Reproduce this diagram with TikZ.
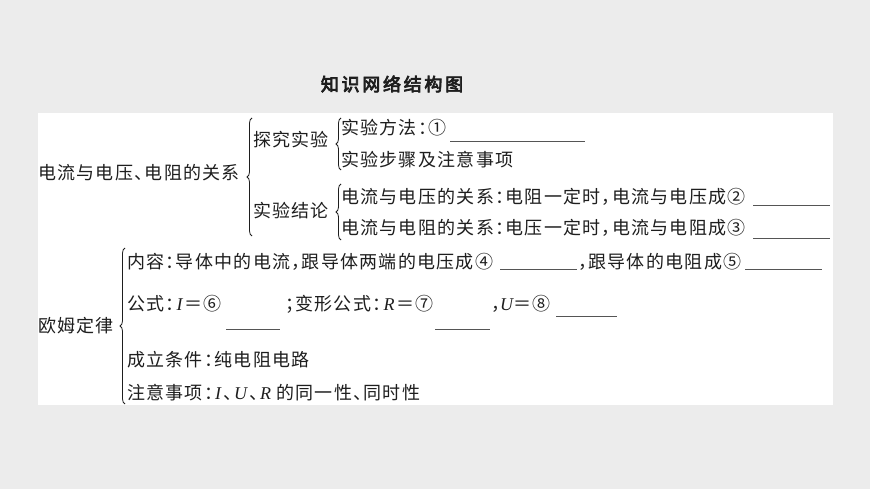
\documentclass[tikz,border=0pt]{standalone}
\usepackage{fontspec}
\usetikzlibrary{decorations.pathreplacing}
\newfontfamily\cjk[RawFeature=+halt,LetterSpace=7]{Noto Sans CJK SC}
\newfontfamily\cjkt[FakeBold=4,LetterSpace=15]{Noto Sans CJK SC}
\newfontfamily\serf{Liberation Serif}
\newcommand{\vi}[1]{\hspace{2pt}{\serf\itshape #1}\hspace{2pt}}
\newcommand{\vj}[1]{{\serf\itshape #1}}
\definecolor{bg}{HTML}{ECECEC}
\definecolor{ink}{HTML}{1E1E1E}
\definecolor{ulc}{HTML}{555555}
\tikzset{
  txt/.style={anchor=west,inner sep=0pt,text=ink,font=\cjk\fontsize{18}{20}\selectfont},
  ttl/.style={inner sep=0pt,text=ink,font=\cjkt\fontsize{18}{20}\selectfont},
  brc/.style={draw=ink,line width=0.8pt,decorate,decoration={brace,amplitude=5pt}},
  blank/.style={draw=ulc,line width=0.9pt}
}
\begin{document}
\begin{tikzpicture}[x=1pt,y=-1pt]
\useasboundingbox (0,0) rectangle (870,489);
\fill[bg] (0,0) rectangle (870,489);
\fill[white] (38,113) rectangle (833,405);
\node[ttl] (title) at (392,84) {知识网络结构图};
% first block
\node[txt] (rel) at (38,173) {电流与电压、电阻的关系};
\coordinate (b1t) at (252,118); \coordinate (b1b) at (252,236);
\draw[brc] (b1b) -- (b1t);
\node[txt] (tj) at (253,140) {探究实验};
\coordinate (b2t) at (341,118); \coordinate (b2b) at (341,170);
\draw[brc] (b2b) -- (b2t);
\node[txt] (r1) at (341,128) {实验方法：①};
\coordinate (u1a) at (450,141); \coordinate (u1b) at (585,141);
\draw[blank] (u1a) -- (u1b);
\node[txt] (r2) at (341,160) {实验步骤及注意事项};
\node[txt] (jl) at (253,211) {实验结论};
\coordinate (b3t) at (341,184); \coordinate (b3b) at (341,240);
\draw[brc] (b3b) -- (b3t);
\node[txt] (r3) at (341,197) {电流与电压的关系：电阻一定时，电流与电压成②};
\coordinate (u2a) at (753,205); \coordinate (u2b) at (830,205);
\draw[blank] (u2a) -- (u2b);
\node[txt] (r4) at (341,228) {电流与电阻的关系：电压一定时，电流与电阻成③};
\coordinate (u3a) at (753,238); \coordinate (u3b) at (830,238);
\draw[blank] (u3a) -- (u3b);
% second block
\node[txt] (om) at (38,326) {欧姆定律};
\coordinate (b4t) at (125,248); \coordinate (b4b) at (125,404);
\draw[brc] (b4b) -- (b4t);
\node[txt] (r5a) at (127,262) {内容：导体中的电流，跟导体两端的电压成④};
\coordinate (u4a) at (500,269); \coordinate (u4b) at (577,269);
\draw[blank] (u4a) -- (u4b);
\node[txt] (r5b) at (578,262) {，跟导体的电阻成⑤};
\coordinate (u5a) at (745,269); \coordinate (u5b) at (822,269);
\draw[blank] (u5a) -- (u5b);
\node[txt] (r6a) at (127,304) {公式：\vi{I}＝⑥};
\coordinate (u6a) at (226,329); \coordinate (u6b) at (280,329);
\draw[blank] (u6a) -- (u6b);
\node[txt] (r6b) at (285,304) {；变形公式：\vi{R}＝⑦};
\coordinate (u7a) at (435,329); \coordinate (u7b) at (490,329);
\draw[blank] (u7a) -- (u7b);
\node[txt] (r6c) at (491,304) {，\vj{U}＝⑧};
\coordinate (u8a) at (556,316); \coordinate (u8b) at (617,316);
\draw[blank] (u8a) -- (u8b);
\node[txt] (r7) at (127,360) {成立条件：纯电阻电路};
\node[txt] (r8) at (127,393) {注意事项：\vi{I}、\vi{U}、\vi{R}\hspace{3pt}的同一性、同时性};
\end{tikzpicture}
\end{document}
